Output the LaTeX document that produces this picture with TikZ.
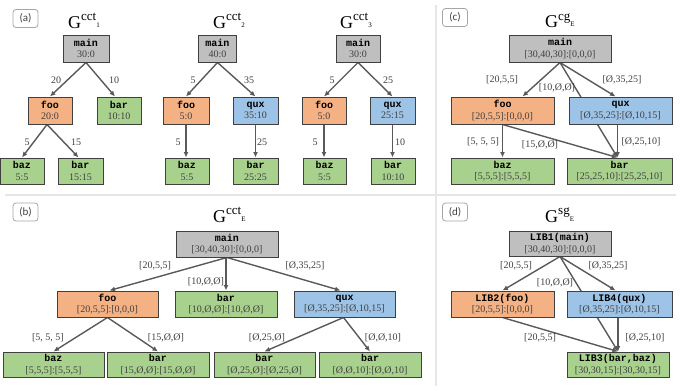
\documentclass[tikz,border=0pt]{standalone}
\usepackage{fontspec}
\setmainfont{Liberation Serif}
\setmonofont{Liberation Mono}
\newfontfamily\labfont{Carlito}
\usetikzlibrary{arrows.meta,calc}
\definecolor{grayfill}{HTML}{BFBFBF}
\definecolor{orfill}{HTML}{F4B183}
\definecolor{grfill}{HTML}{A9D18E}
\definecolor{blfill}{HTML}{9DC3E6}
\definecolor{boxc}{HTML}{404040}
\definecolor{edgec}{HTML}{595959}
\definecolor{numc}{HTML}{404040}
\definecolor{labc}{HTML}{404040}
\definecolor{divc}{HTML}{E6E6E6}
\definecolor{tagc}{HTML}{A6A6A6}
\newcommand{\bx}[2]{{\ttfamily\bfseries #1}\\{\color{numc}#2}}
\newcommand{\titleG}[2]{{\fontsize{18}{18}\selectfont G}\raisebox{7.5pt}{\fontsize{13}{13}\selectfont #1\raisebox{-6.5pt}{\fontsize{7}{7}\selectfont #2}}}
\pgfdeclarelayer{bg}
\pgfsetlayers{bg,main}
\tikzset{
  box/.style={draw=boxc, line width=1pt, minimum height=27pt, inner sep=0pt, align=center,
    font=\fontsize{10}{11.5}\selectfont},
  gbox/.style={box, fill=grayfill},
  obox/.style={box, fill=orfill},
  ebox/.style={box, fill=grfill},
  bbox/.style={box, fill=blfill},
  edge/.style={draw=edgec, line width=1.4pt, -{Latex[length=5.5pt,width=5pt]}},
  elab/.style={text=labc, font=\fontsize{10}{10}\selectfont, inner sep=0pt},
  tag/.style={draw=tagc, line width=0.8pt, rounded corners=3pt, fill=white, minimum width=25pt,
    minimum height=18pt, inner sep=0pt, text=labc, font=\labfont\fontsize{11}{11}\selectfont},
  ttl/.style={anchor=base west, inner sep=0pt},
  divider/.style={draw=divc, line width=1.5pt}
}
\begin{document}
\begin{tikzpicture}[x=1pt,y=-1pt]
\useasboundingbox (0,0) rectangle (681,391);
% tags
\node[tag] (tga) at (25.5,18.5) {(a)};
\node[tag] (tgc) at (455,17.5) {(c)};
\node[tag] (tgb) at (25.5,212) {(b)};
\node[tag] (tgd) at (455,212) {(d)};
% titles
\node[ttl] (t1) at (68,28) {\titleG{cct}{1}};
\node[ttl] (t2) at (213,28) {\titleG{cct}{2}};
\node[ttl] (t3) at (340,28) {\titleG{cct}{3}};
\node[ttl] (tc) at (545,27.5) {\titleG{cg}{E}};
\node[ttl] (tb) at (213,222) {\titleG{cct}{E}};
\node[ttl] (td) at (545,222) {\titleG{sg}{E}};
% ---- (a) G1
\node[gbox, minimum width=46pt] (m1) at (86,48.5) {\bx{main}{30:0}};
\node[obox, minimum width=44pt] (f1) at (50,110.5) {\bx{foo}{20:0}};
\node[ebox, minimum width=44pt] (b1) at (119,110.5) {\bx{bar}{10:10}};
\node[ebox, minimum width=44pt, minimum height=26pt] (z1) at (22,171) {\bx{baz}{5:5}};
\node[ebox, minimum width=45pt, minimum height=26pt] (c1) at (80.5,171) {\bx{bar}{15:15}};
% ---- (a) G2
\node[gbox, minimum width=38pt] (m2) at (217.5,48.5) {\bx{main}{40:0}};
\node[obox, minimum width=46pt] (f2) at (186,110.5) {\bx{foo}{5:0}};
\node[bbox, minimum width=45pt] (q2) at (255.5,110.5) {\bx{qux}{35:10}};
\node[ebox, minimum width=44pt, minimum height=26pt] (z2) at (187,171) {\bx{baz}{5:5}};
\node[ebox, minimum width=45pt, minimum height=26pt] (c2) at (255.5,171) {\bx{bar}{25:25}};
% ---- (a) G3
\node[gbox, minimum width=44pt] (m3) at (358,48.5) {\bx{main}{30:0}};
\node[obox, minimum width=44pt] (f3) at (324,110.5) {\bx{foo}{5:0}};
\node[bbox, minimum width=45pt] (q3) at (392.5,110.5) {\bx{qux}{25:15}};
\node[ebox, minimum width=43pt, minimum height=26pt] (z3) at (324.5,171) {\bx{baz}{5:5}};
\node[ebox, minimum width=44pt, minimum height=26pt] (c3) at (393,171) {\bx{bar}{10:10}};
% ---- (b)
\node[gbox, minimum width=102pt, minimum height=26pt] (mb) at (227,244) {\bx{main}{[30,40,30]:[0,0,0]}};
\node[obox, minimum width=101pt, minimum height=26pt] (fb) at (107.5,304) {\bx{foo}{[20,5,5]:[0,0,0]}};
\node[ebox, minimum width=102pt, minimum height=26pt] (bb) at (226,304) {\bx{bar}{[10,Ø,Ø]:[10,Ø,Ø]}};
\node[bbox, minimum width=101pt, minimum height=26pt] (qb) at (344.5,304) {\bx{qux}{[Ø,35,25]:[Ø,10,15]}};
\node[ebox, minimum width=101pt, minimum height=25pt] (zb) at (53.5,364.5) {\bx{baz}{[5,5,5]:[5,5,5]}};
\node[ebox, minimum width=102pt, minimum height=25pt] (cb1) at (158,364.5) {\bx{bar}{[15,Ø,Ø]:[15,Ø,Ø]}};
\node[ebox, minimum width=101pt, minimum height=25pt] (cb2) at (264.5,364.5) {\bx{bar}{[Ø,25,Ø]:[Ø,25,Ø]}};
\node[ebox, minimum width=102pt, minimum height=25pt] (cb3) at (370,364.5) {\bx{bar}{[Ø,Ø,10]:[Ø,Ø,10]}};
% ---- (c)
\node[gbox, minimum width=102pt] (mc) at (560,48.5) {\bx{main}{[30,40,30]:[0,0,0]}};
\node[obox, minimum width=103pt] (fc) at (502.5,110.5) {\bx{foo}{[20,5,5]:[0,0,0]}};
\node[bbox, minimum width=103pt] (qc) at (620.5,110.5) {\bx{qux}{[Ø,35,25]:[Ø,10,15]}};
\node[ebox, minimum width=103pt, minimum height=26pt] (zc) at (502.5,171) {\bx{baz}{[5,5,5]:[5,5,5]}};
\node[ebox, minimum width=105pt, minimum height=26pt] (bc) at (619.5,171) {\bx{bar}{[25,25,10]:[25,25,10]}};
% ---- (d)
\node[gbox, minimum width=102pt, minimum height=25pt] (md) at (560,243.5) {\bx{LIB1(main)}{[30,40,30]:[0,0,0]}};
\node[obox, minimum width=103pt, minimum height=26pt] (fd) at (502.5,304) {\bx{LIB2(foo)}{[20,5,5]:[0,0,0]}};
\node[bbox, minimum width=105pt, minimum height=26pt] (qd) at (619.5,304) {\bx{LIB4(qux)}{[Ø,35,25]:[Ø,10,15]}};
\node[ebox, minimum width=102pt, minimum height=25pt] (bd) at (618,364.5) {\bx{LIB3(bar,baz)}{[30,30,15]:[30,30,15]}};
% edge labels
\node[elab] (l1) at (56,80) {20};
\node[elab] (l2) at (114,80) {10};
\node[elab] (l3) at (27,142) {5};
\node[elab] (l4) at (76,142) {15};
\node[elab] (l5) at (193,80) {5};
\node[elab] (l6) at (249,80) {35};
\node[elab] (l7) at (178,142) {5};
\node[elab] (l8) at (262,142) {25};
\node[elab] (l9) at (332,80) {5};
\node[elab] (l10) at (388,80) {25};
\node[elab] (l11) at (315,142) {5};
\node[elab] (l12) at (400,142) {10};
\node[elab] (lb1) at (155,266) {[20,5,5]};
\node[elab] (lb2) at (206,282) {[10,Ø,Ø]};
\node[elab] (lb3) at (305,266) {[Ø,35,25]};
\node[elab] (lb4) at (48,338) {[5, 5, 5]};
\node[elab] (lb5) at (166,338) {[15,Ø,Ø]};
\node[elab] (lb6) at (267,338) {[Ø,25,Ø]};
\node[elab] (lb7) at (383,338) {[Ø,Ø,10]};
\node[elab] (lc1) at (502,80) {[20,5,5]};
\node[elab] (lc2) at (557,88) {[10,Ø,Ø]};
\node[elab] (lc3) at (622,80) {[Ø,35,25]};
\node[elab] (lc4) at (483,142) {[5, 5, 5]};
\node[elab] (lc5) at (540,145) {[15,Ø,Ø]};
\node[elab] (lc6) at (641,142) {[Ø,25,10]};
\node[elab] (ld1) at (516,266) {[20,5,5]};
\node[elab] (ld2) at (555,283) {[10,Ø,Ø]};
\node[elab] (ld3) at (608,266) {[Ø,35,25]};
\node[elab] (ld4) at (540,338) {[20,5,5]};
\node[elab] (ld5) at (645,338) {[Ø,25,10]};
% helper coordinates
\coordinate (bcin) at ([xshift=-2pt]bc.north);
\coordinate (bdin) at (bd.north);
\begin{pgfonlayer}{bg}
\draw[divider] (436,5) -- (436,386);
\draw[divider] (5,195) -- (676,195);
% (a) G1
\draw[edge] (m1.south) -- (f1.north);
\draw[edge] (m1.south) -- ([xshift=-4pt]b1.north);
\draw[edge] ([xshift=-3pt]f1.south) -- (z1.north);
\draw[edge] ([xshift=-3pt]f1.south) -- ([xshift=-2pt]c1.north);
% G2
\draw[edge] (m2.south) -- (f2.north);
\draw[edge] (m2.south) -- (q2.north);
\draw[edge] (f2.south) -- (f2.south |- z2.north);
\draw[edge] (q2.south) -- (q2.south |- c2.north);
% G3
\draw[edge] (m3.south) -- (f3.north);
\draw[edge] (m3.south) -- (q3.north);
\draw[edge] (f3.south) -- (f3.south |- z3.north);
\draw[edge] (q3.south) -- (q3.south |- c3.north);
% (b)
\draw[edge] (mb.south) -- ([xshift=2pt]fb.north);
\draw[edge] (bb.north |- mb.south) -- (bb.north);
\draw[edge] (mb.south) -- ([xshift=-4pt]qb.north);
\draw[edge] (fb.south) -- (zb.north);
\draw[edge] (fb.south) -- (cb1.north);
\draw[edge] ([xshift=-1pt]qb.south) -- (cb2.north);
\draw[edge] ([xshift=-1pt]qb.south) -- (cb3.north);
% (c)
\draw[edge] (mc.south) -- ([xshift=20pt]fc.north);
\draw[edge] (mc.south) -- (bcin);
\draw[edge] (mc.south) -- ([xshift=-5pt]qc.north);
\draw[edge] (fc.south) -- (zc.north);
\draw[edge] (fc.south) -- (bcin);
\draw[edge] (bcin |- qc.south) -- (bcin);
% (d)
\draw[edge] (md.south) -- (fd.north);
\draw[edge] (md.south) -- (bdin);
\draw[edge] (md.south) -- ([xshift=-4pt]qd.north);
\draw[edge] (fd.south) -- (bdin);
\draw[edge] (bdin |- qd.south) -- (bdin);
\end{pgfonlayer}
\end{tikzpicture}
\end{document}
